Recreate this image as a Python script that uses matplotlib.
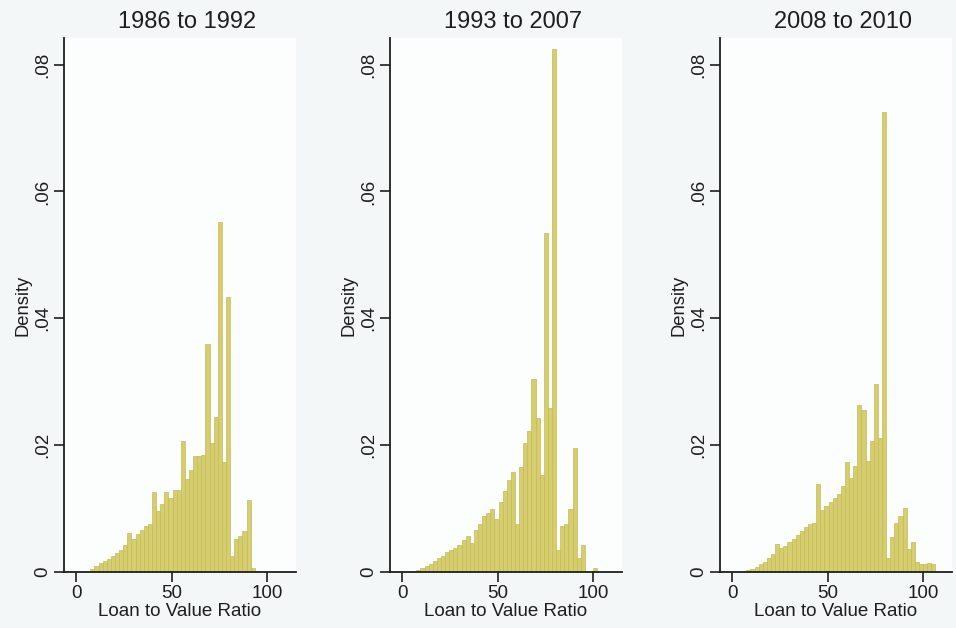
import numpy as np
import matplotlib
matplotlib.use("Agg")
import matplotlib.pyplot as plt

plt.rcParams['font.family'] = ['Liberation Sans', 'DejaVu Sans']

# common bins for the three periods (loan to value ratio, percent)
bin_start = 1.0
bin_width = 2.15

titles = ["1986 to 1992", "1993 to 2007", "2008 to 2010"]

# density of each bin (bin 0 starts at bin_start)
dens_86_92 = [0, 0, 0, 0.0004, 0.0009, 0.0014, 0.0017, 0.0020, 0.0025, 0.0030,
              0.0035, 0.0043, 0.0062, 0.0052, 0.0060, 0.0067, 0.0072, 0.0076, 0.0126, 0.0096,
              0.0108, 0.0126, 0.0117, 0.0130, 0.0130, 0.0206, 0.0147, 0.0161, 0.0183, 0.0183,
              0.0185, 0.0359, 0.0203, 0.0245, 0.0552, 0.0173, 0.0433, 0.0025, 0.0052, 0.0056,
              0.0064, 0.0113, 0.0007, 0.0002]

dens_93_07 = [0, 0, 0, 0.0003, 0.0006, 0.0010, 0.0013, 0.0017, 0.0022, 0.0026,
              0.0031, 0.0034, 0.0038, 0.0043, 0.0050, 0.0057, 0.0045, 0.0067, 0.0075, 0.0089,
              0.0093, 0.0099, 0.0084, 0.0110, 0.0128, 0.0145, 0.0157, 0.0075, 0.0166, 0.0203,
              0.0222, 0.0304, 0.0243, 0.0153, 0.0534, 0.0259, 0.0824, 0.0035, 0.0073, 0.0076,
              0.0099, 0.0196, 0.0022, 0.0042, 0, 0, 0.0006]

dens_08_10 = [0, 0, 0, 0.0003, 0.0005, 0.0008, 0.0012, 0.0016, 0.0022, 0.0028,
              0.0044, 0.0038, 0.0041, 0.0047, 0.0052, 0.0058, 0.0065, 0.0071, 0.0076, 0.0078,
              0.0139, 0.0098, 0.0104, 0.0110, 0.0117, 0.0123, 0.0135, 0.0174, 0.0148, 0.0167,
              0.0263, 0.0255, 0.0175, 0.0206, 0.0297, 0.0212, 0.0725, 0.0022, 0.0055, 0.0078,
              0.0088, 0.0101, 0.0036, 0.0048, 0.0015, 0.0013, 0.0012, 0.0014, 0.0013]

all_dens = [dens_86_92, dens_93_07, dens_08_10]

y_ticks = [0, 0.02, 0.04, 0.06, 0.08]
y_labels = ["0", ".02", ".04", ".06", ".08"]
x_ticks = [0, 50, 100]

bar_fill = '#d6ce6e'
bar_edge = '#c4bb58'
txt = '#1e1e1e'

fig = plt.figure(figsize=(9.56, 6.28), dpi=100, facecolor='#f3f7f8')
W, H = 956, 628
lefts = [64, 390, 720]
pw, bot, top = 232, 572, 38

for i in range(3):
    ax = fig.add_axes([lefts[i] / W, 1 - bot / H, pw / W, (bot - top) / H])
    ax.set_facecolor('#fcfdfd')
    d = all_dens[i]
    edges = bin_start + bin_width * np.arange(len(d))
    ax.bar(edges, d, width=bin_width, align='edge', color=bar_fill,
           edgecolor=bar_edge, linewidth=0.5)
    ax.set_xlim(-6.3, 115)
    ax.set_ylim(0, 0.0842)
    for s in ['top', 'right']:
        ax.spines[s].set_visible(False)
    for s in ['left', 'bottom']:
        ax.spines[s].set_color(txt)
        ax.spines[s].set_linewidth(1.3)
    ax.set_yticks(y_ticks)
    ax.set_yticklabels(y_labels, rotation=90, va='center', fontsize=13.5, color=txt)
    ax.set_xticks(x_ticks)
    ax.set_xticklabels([str(t) for t in x_ticks], fontsize=13.5, color=txt)
    ax.tick_params(direction='out', length=7, width=1.2, color=txt, pad=2)
    ax.set_ylabel("Density", fontsize=13.2, color=txt, labelpad=2)
    ax.set_xlabel("Loan to Value Ratio", fontsize=13.5, color=txt, labelpad=1)
    ax.set_title(titles[i], fontsize=17, color=txt, pad=7, x=0.53)

fig.savefig("out.png", dpi=100, facecolor=fig.get_facecolor())
